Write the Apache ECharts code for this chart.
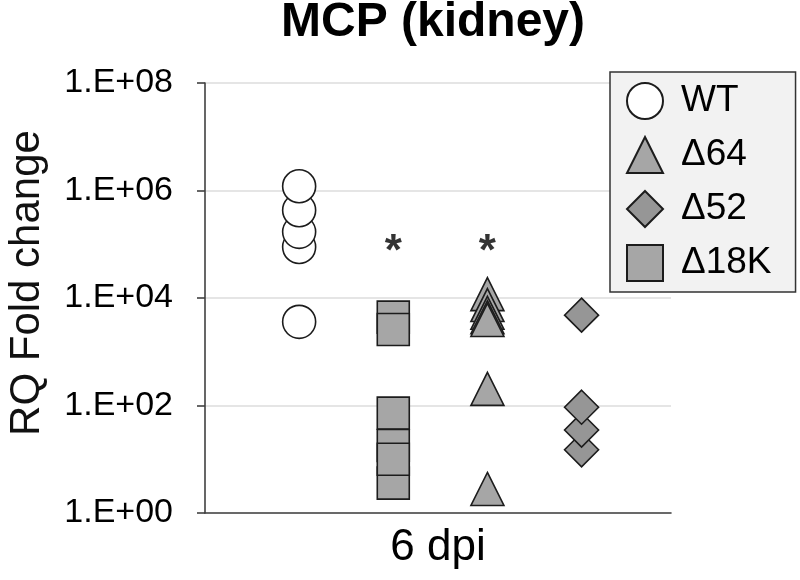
<!DOCTYPE html>
<html>
<head>
<meta charset="utf-8">
<script src="https://cdn.jsdelivr.net/npm/echarts@6/dist/echarts.min.js"></script>
<style>
  html, body { margin: 0; padding: 0; background: #fff; }
  #chart { width: 800px; height: 580px; }
</style>
</head>
<body>
<div id="chart"></div>
<script>
// RQ fold change, 6 dpi, kidney
const groupNames = ["WT", "Δ18K", "Δ64", "Δ52"]
const legendOrder = ["WT", "Δ64", "Δ52", "Δ18K"]
const wtValues = [3.6e3, 8.9e4, 1.7e5, 4.3e5, 1.2e6]
const d18kValues = [4.4e3, 2.6e3, 72, 18, 3.6, 10]
const d64Values = [1.18e4, 7.4e3, 5.3e3, 4.4e3, 3.9e3, 204, 2.8]
const d52Values = [15, 35, 93, 4.8e3]
const starGroups = ["Δ18K", "Δ64"]
const starValues = [7e4, 7e4]
const yTicks = [1, 1e2, 1e4, 1e6, 1e8]

const font = "Liberation Sans, Arial, sans-serif"
const edge = "#1c1c1c"

function pos(name) {
  return groupNames.indexOf(name) + 1
}

function pts(name, vals) {
  return vals.map(v => [pos(name), v])
}

function sci(v) {
  const e = Math.round(Math.log10(v))
  return "1.E+" + String(e).padStart(2, "0")
}

const chart = echarts.init(document.getElementById("chart"), null, { renderer: "canvas" })

function dots(name, symbol, size, fill, vals) {
  return {
    name: name,
    type: "scatter",
    symbol: symbol,
    symbolSize: size,
    data: pts(name, vals),
    itemStyle: { color: fill, borderColor: edge, borderWidth: 1.6, opacity: 1 },
    emphasis: { disabled: true }
  }
}

chart.setOption({
  animation: false,
  title: {
    text: "MCP (kidney)",
    left: 276,
    top: -6,
    textStyle: { fontFamily: font, fontSize: 48, fontWeight: "bold", color: "#000" }
  },
  grid: { left: 205, right: 129, top: 83, bottom: 67, outerBoundsMode: "none", containLabel: false },
  legend: {
    data: legendOrder,
    orient: "vertical",
    left: 610,
    top: 72,
    padding: [10, 24, 10, 16],
    itemWidth: 36,
    itemHeight: 36,
    itemGap: 16,
    backgroundColor: "#f2f2f2",
    borderColor: "#333",
    borderWidth: 1.5,
    borderRadius: 0,
    textStyle: { fontFamily: font, fontSize: 37, color: "#000", padding: [0, 0, 0, 13] }
  },
  xAxis: {
    type: "value",
    min: 0,
    max: 4.95,
    name: "6 dpi",
    nameLocation: "middle",
    nameGap: 13,
    nameTextStyle: { fontFamily: font, fontSize: 44, color: "#000" },
    axisLine: { show: true, onZero: false, lineStyle: { color: "#404040", width: 1.6 } },
    axisTick: { show: false },
    axisLabel: { show: false },
    splitLine: { show: false }
  },
  yAxis: {
    type: "log",
    logBase: 10,
    min: yTicks[0],
    max: yTicks[yTicks.length - 1],
    interval: 2,
    splitNumber: 4,
    name: "RQ Fold change",
    nameLocation: "middle",
    nameRotate: 90,
    nameGap: 157,
    nameTextStyle: { fontFamily: font, fontSize: 42, color: "#111", padding: [0, 0, 0, 30] },
    axisLine: { show: true, lineStyle: { color: "#404040", width: 1.6 } },
    axisTick: { show: true, inside: false, length: 8, lineStyle: { color: "#404040", width: 1.6 } },
    axisLabel: {
      margin: 32,
      fontFamily: font,
      fontSize: 34,
      color: "#000",
      formatter: v => sci(v)
    },
    splitLine: { show: true, lineStyle: { color: "#dcdcdc", width: 1.5 } }
  },
  series: [
    dots("WT", "circle", 33, "#ffffff", wtValues),
    dots("Δ64", "triangle", 33, "#a6a6a6", d64Values),
    dots("Δ52", "diamond", 34, "#969696", d52Values),
    dots("Δ18K", "rect", 32, "#a6a6a6", d18kValues),
    {
      name: "sig",
      type: "scatter",
      symbolSize: 2,
      itemStyle: { color: "rgba(0,0,0,0)", borderWidth: 0 },
      data: starGroups.map((g, i) => [pos(g), starValues[i]]),
      label: {
        show: true,
        position: "inside",
        formatter: "*",
        fontFamily: font,
        fontSize: 44,
        fontWeight: "bold",
        color: "#000"
      },
      emphasis: { disabled: true }
    }
  ]
})
</script>
</body>
</html>
